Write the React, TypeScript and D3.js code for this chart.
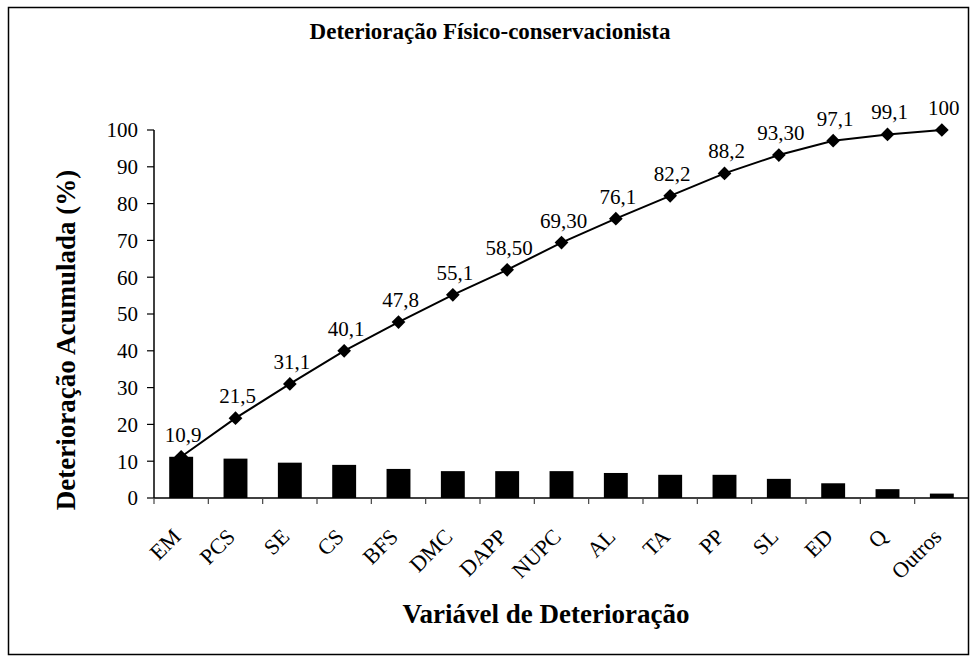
import React, { useEffect, useRef } from 'react';
import * as d3 from 'd3';

const categories = ['EM', 'PCS', 'SE', 'CS', 'BFS', 'DMC', 'DAPP', 'NUPC', 'AL', 'TA', 'PP', 'SL', 'ED', 'Q', 'Outros'];
const barValues = [11.2, 10.7, 9.6, 9.0, 7.9, 7.3, 7.3, 7.3, 6.8, 6.3, 6.3, 5.2, 4.0, 2.4, 1.2];
const cumulative = [11.2, 21.7, 31.0, 40.0, 47.8, 55.2, 62.0, 69.4, 75.9, 82.1, 88.2, 93.2, 97.1, 98.8, 100];
const pointLabels = ['10,9', '21,5', '31,1', '40,1', '47,8', '55,1', '58,50', '69,30', '76,1', '82,2', '88,2', '93,30', '97,1', '99,1', '100'];
const yTicks = [0, 10, 20, 30, 40, 50, 60, 70, 80, 90, 100];

const FONT = '"Liberation Serif", "Times New Roman", serif';

function ParetoChart() {
  const svgRef = useRef<SVGSVGElement>(null);

  useEffect(() => {
    const svg = d3.select(svgRef.current);
    svg.selectAll('*').remove();

    const left = 154;
    const right = 969;
    const top = 130;
    const bottom = 498;

    const x = d3.scaleBand<string>()
      .domain(categories)
      .range([left, right])
      .paddingInner(0.56)
      .paddingOuter(0.28);
    const step = x.step();
    const cx = (c: string) => (x(c) as number) + x.bandwidth() / 2;

    const y = d3.scaleLinear().domain([0, 100]).range([bottom, top]);

    // chart frame
    svg.append('rect')
      .attr('x', 8.5).attr('y', 7.5)
      .attr('width', 960).attr('height', 647)
      .attr('fill', '#fff')
      .attr('stroke', '#000')
      .attr('stroke-width', 1.5);

    // title
    svg.append('text')
      .attr('x', 490).attr('y', 39)
      .attr('text-anchor', 'middle')
      .attr('font-family', FONT)
      .attr('font-weight', 'bold')
      .attr('font-size', 23)
      .text('Deterioração Físico-conservacionista');

    // bars
    svg.selectAll('.bar')
      .data(categories)
      .enter()
      .append('rect')
      .attr('class', 'bar')
      .attr('x', (d) => x(d) as number)
      .attr('y', (d, i) => y(barValues[i]))
      .attr('width', x.bandwidth())
      .attr('height', (d, i) => bottom - y(barValues[i]))
      .attr('fill', '#000');

    // y axis
    svg.append('line')
      .attr('x1', left).attr('x2', left)
      .attr('y1', top).attr('y2', bottom)
      .attr('stroke', '#000').attr('stroke-width', 1.5);
    const yt = svg.selectAll('.ytick').data(yTicks).enter().append('g').attr('class', 'ytick');
    yt.append('line')
      .attr('x1', left - 7).attr('x2', left)
      .attr('y1', (d) => y(d)).attr('y2', (d) => y(d))
      .attr('stroke', '#000').attr('stroke-width', 1.2);
    yt.append('text')
      .attr('x', left - 16)
      .attr('y', (d) => y(d))
      .attr('dy', '0.35em')
      .attr('text-anchor', 'end')
      .attr('font-family', FONT)
      .attr('font-size', 21)
      .text((d) => String(d));

    // x axis
    svg.append('line')
      .attr('x1', left).attr('x2', right)
      .attr('y1', bottom).attr('y2', bottom)
      .attr('stroke', '#000').attr('stroke-width', 1.5);
    svg.selectAll('.xtick')
      .data(d3.range(categories.length))
      .enter()
      .append('line')
      .attr('class', 'xtick')
      .attr('x1', (i) => left + i * step).attr('x2', (i) => left + i * step)
      .attr('y1', bottom).attr('y2', bottom + 6)
      .attr('stroke', '#444').attr('stroke-width', 1.2);
    svg.selectAll('.xlabel')
      .data(categories)
      .enter()
      .append('text')
      .attr('class', 'xlabel')
      .attr('transform', (d) => `translate(${cx(d) + 1},${bottom + 40}) rotate(-45)`)
      .attr('text-anchor', 'end')
      .attr('font-family', FONT)
      .attr('font-size', 22)
      .text((d) => d);

    // cumulative line
    const line = d3.line<number>()
      .x((d, i) => cx(categories[i]))
      .y((d) => y(d));
    svg.append('path')
      .datum(cumulative)
      .attr('d', line)
      .attr('fill', 'none')
      .attr('stroke', '#000')
      .attr('stroke-width', 2);

    const diamond = d3.symbol().type(d3.symbolDiamond2).size(120);
    svg.selectAll('.marker')
      .data(cumulative)
      .enter()
      .append('path')
      .attr('class', 'marker')
      .attr('d', diamond)
      .attr('transform', (d, i) => `translate(${cx(categories[i])},${y(d)})`)
      .attr('fill', '#000');

    svg.selectAll('.plabel')
      .data(cumulative)
      .enter()
      .append('text')
      .attr('class', 'plabel')
      .attr('x', (d, i) => cx(categories[i]) + 2)
      .attr('y', (d) => y(d) - 15)
      .attr('text-anchor', 'middle')
      .attr('font-family', FONT)
      .attr('font-size', 21)
      .text((d, i) => pointLabels[i]);

    // axis titles
    svg.append('text')
      .attr('transform', 'translate(75,340) rotate(-90)')
      .attr('text-anchor', 'middle')
      .attr('font-family', FONT)
      .attr('font-weight', 'bold')
      .attr('font-size', 27)
      .text('Deterioração Acumulada (%)');

    svg.append('text')
      .attr('x', 546).attr('y', 623)
      .attr('text-anchor', 'middle')
      .attr('font-family', FONT)
      .attr('font-weight', 'bold')
      .attr('font-size', 27)
      .text('Variável de Deterioração');
  }, []);

  return (
    <svg
      ref={svgRef}
      width={970}
      height={663}
      style={{ position: 'absolute', left: 0, top: 0, background: '#fff' }}
    />
  );
}

export default function App() {
  return <ParetoChart />;
}
